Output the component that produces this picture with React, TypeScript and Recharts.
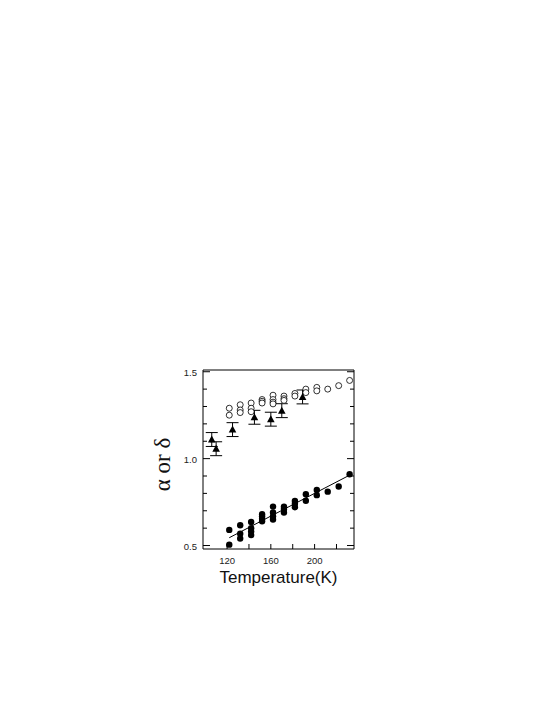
import * as React from "react";
import { ComposedChart, XAxis, YAxis, Scatter, ErrorBar } from "recharts";

// temperature (K), value
const openCircles = [
  [122, 1.29], [122, 1.25],
  [132, 1.31], [132, 1.28], [132, 1.265],
  [142, 1.32], [142, 1.29], [142, 1.27],
  [152, 1.34], [152, 1.33], [152, 1.32],
  [162, 1.365], [162, 1.34], [162, 1.325], [162, 1.315],
  [172, 1.36], [172, 1.345], [172, 1.335],
  [182, 1.375], [182, 1.36],
  [192, 1.4], [192, 1.38],
  [202, 1.41], [202, 1.39],
  [212, 1.4],
  [222, 1.42],
  [232, 1.45],
];

const filledCircles = [
  [122, 0.59], [122, 0.505],
  [132, 0.617], [132, 0.568], [132, 0.54],
  [142, 0.636], [142, 0.6], [142, 0.58], [142, 0.56],
  [152, 0.68], [152, 0.668], [152, 0.654], [152, 0.64],
  [162, 0.724], [162, 0.69], [162, 0.668], [162, 0.65],
  [172, 0.724], [172, 0.71], [172, 0.69],
  [182, 0.756], [182, 0.74], [182, 0.72],
  [192, 0.795], [192, 0.758],
  [202, 0.82], [202, 0.79],
  [212, 0.81],
  [222, 0.84],
  [232, 0.91],
];

const triangles = [
  [106, 1.11], [110, 1.057], [125, 1.167], [145, 1.238],
  [160, 1.227], [170, 1.276], [189, 1.355],
];
const triangleErr = 0.04;

const fitLine = [
  [122, 0.545],
  [232, 0.905],
];

const xTicks = [120, 140, 160, 180, 200, 220];
const xLabels = [120, 160, 200];
const yTicks = [0.5, 0.6, 0.7, 0.8, 0.9, 1.0, 1.1, 1.2, 1.3, 1.4, 1.5];
const yLabels = [0.5, 1.0, 1.5];

const toPts = (arr: number[][]) => arr.map(([t, v]) => ({ t, v }));

const tickFont = { fontFamily: "Liberation Sans, Arial, sans-serif", fontSize: 9.5, fill: "#222" };

const BottomTick = ({ x, y, payload }: any) => (
  <g>
    <line x1={x} x2={x} y1={y} y2={y - 5} stroke="#000" />
    {xLabels.includes(payload.value) && (
      <text x={x} y={y + 15} textAnchor="middle" {...tickFont}>
        {payload.value}
      </text>
    )}
  </g>
);

const TopTick = ({ x, y }: any) => (
  <line x1={x} x2={x} y1={y} y2={y + 5} stroke="#000" />
);

const LeftTick = ({ x, y, payload }: any) => {
  const major = yLabels.some((l) => Math.abs(l - payload.value) < 1e-6);
  return (
    <g>
      <line x1={x} x2={x + (major ? 7 : 4)} y1={y} y2={y} stroke="#000" />
      {major && (
        <text x={x - 6} y={y + 4} textAnchor="end" {...tickFont}>
          {payload.value.toFixed(1)}
        </text>
      )}
    </g>
  );
};

const RightTick = ({ x, y, payload }: any) => {
  const major = yLabels.some((l) => Math.abs(l - payload.value) < 1e-6);
  return <line x1={x} x2={x - (major ? 7 : 4)} y1={y} y2={y} stroke="#000" />;
};

const OpenDot = ({ cx, cy }: any) => (
  <circle cx={cx} cy={cy} r={3} fill="#fff" stroke="#000" strokeWidth={0.8} />
);
const FilledDot = ({ cx, cy }: any) => <circle cx={cx} cy={cy} r={3.2} fill="#000" />;
const Tri = ({ cx, cy }: any) => (
  <path d={`M${cx},${cy - 4} L${cx + 3.8},${cy + 3} L${cx - 3.8},${cy + 3} Z`} fill="#000" />
);

const App = () => (
  <div style={{ position: "absolute", left: 0, top: 0, background: "#fff" }}>
    <ComposedChart
      width={545}
      height={705}
      margin={{ top: 369, left: 202, right: 190, bottom: 155 }}
    >
      <XAxis
        dataKey="t"
        type="number"
        domain={[98, 236]}
        allowDataOverflow
        ticks={xTicks}
        interval={0}
        height={1}
        tickSize={0}
        tickMargin={0}
        tickLine={false}
        axisLine={{ stroke: "#000" }}
        tick={<BottomTick />}
        label={{
          content: ({ viewBox }: any) => (
            <text
              x={viewBox.x + viewBox.width / 2}
              y={viewBox.y + 34}
              textAnchor="middle"
              fontFamily="Liberation Sans, Arial, sans-serif"
              fontSize={17}
              fill="#111"
            >
              Temperature(K)
            </text>
          ),
        }}
      />
      <XAxis
        xAxisId="top"
        orientation="top"
        type="number"
        domain={[98, 236]}
        allowDataOverflow
        ticks={xTicks}
        interval={0}
        height={1}
        tickSize={0}
        tickMargin={0}
        tickLine={false}
        axisLine={{ stroke: "#000" }}
        tick={<TopTick />}
      />
      <YAxis
        dataKey="v"
        type="number"
        domain={[0.48, 1.51]}
        allowDataOverflow
        ticks={yTicks}
        interval={0}
        width={1}
        tickSize={0}
        tickMargin={0}
        tickLine={false}
        axisLine={{ stroke: "#000" }}
        tick={<LeftTick />}
        label={{
          content: ({ viewBox }: any) => {
            const cx = viewBox.x - 32;
            const cy = viewBox.y + viewBox.height / 2 + 5;
            return (
              <text
                x={cx}
                y={cy}
                textAnchor="middle"
                transform={`rotate(-90 ${cx} ${cy})`}
                fontFamily="Liberation Serif, Times New Roman, serif"
                fontSize={23}
                fill="#111"
              >
                α or δ
              </text>
            );
          },
        }}
      />
      <YAxis
        yAxisId="right"
        orientation="right"
        type="number"
        domain={[0.48, 1.51]}
        allowDataOverflow
        ticks={yTicks}
        interval={0}
        width={1}
        tickSize={0}
        tickMargin={0}
        tickLine={false}
        axisLine={{ stroke: "#000" }}
        tick={<RightTick />}
      />
      <Scatter
        data={toPts(fitLine)}
        dataKey="v"
        line={{ stroke: "#000", strokeWidth: 1 }}
        shape={() => <g />}
        isAnimationActive={false}
      />
      <Scatter data={toPts(openCircles)} dataKey="v" shape={<OpenDot />} isAnimationActive={false} />
      <Scatter data={toPts(filledCircles)} dataKey="v" shape={<FilledDot />} isAnimationActive={false} />
      <Scatter
        data={triangles.map(([t, v]) => ({ t, v, err: triangleErr }))}
        dataKey="v"
        shape={<Tri />}
        isAnimationActive={false}
      >
        <ErrorBar dataKey="err" direction="y" width={6} stroke="#000" strokeWidth={1} />
      </Scatter>
    </ComposedChart>
  </div>
);

export default App;
